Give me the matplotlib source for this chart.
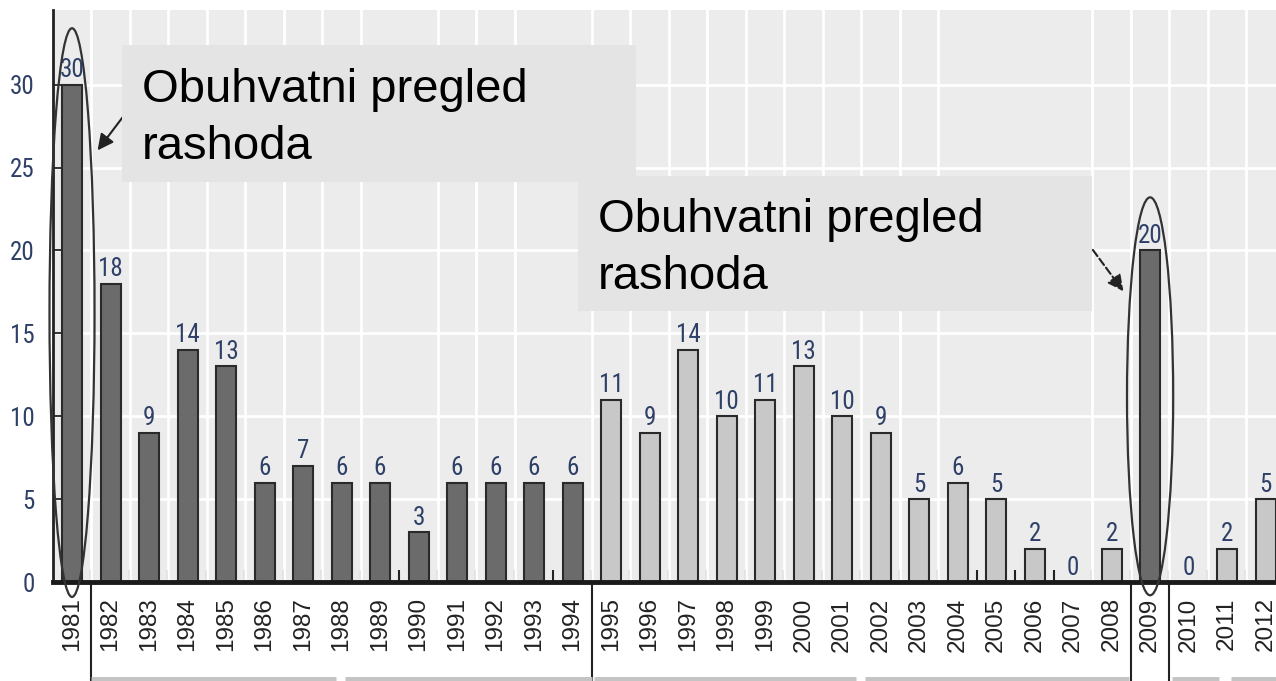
import matplotlib
matplotlib.use("Agg")
import matplotlib.pyplot as plt
from matplotlib.patches import Ellipse, Rectangle
import numpy as np

# data
years = [str(y) for y in range(1981, 2013)]
counts = [30, 18, 9, 14, 13, 6, 7, 6, 6, 3, 6, 6, 6, 6,
          11, 9, 14, 10, 11, 13, 10, 9, 5, 6, 5, 2, 0, 2,
          20, 0, 2, 5]
dark_years = [str(y) for y in range(1981, 1995)] + ["2009"]
box_text = "Obuhvatni pregled\nrashoda"

# layout bits
group_breaks = [0.5, 13.5, 27.5, 28.5]
missing_grid = [8, 12, 23, 24, 25]
bottom_strips = [(0.5, 6.85), (7.1, 13.5), (13.56, 20.35), (20.6, 27.45), (28.57, 29.8), (30.1, 31.4)]

dark = "#6b6b6b"
light = "#c8c8c8"
label_col = "#2f4068"
narrow = ["Roboto Condensed", "DejaVu Sans"]

fig = plt.figure(figsize=(12.76, 6.81), dpi=100)
ax = fig.add_axes([53 / 1276, 99 / 681, 1223 / 1276, 572 / 681])
ax.set_facecolor("#ececec")

x = np.arange(len(years))
colors = [dark if y in dark_years else light for y in years]
ax.bar(x, counts, width=0.52, color=colors, edgecolor="#2a2a2a", linewidth=1.5, zorder=3)

for i, v in enumerate(counts):
    ax.text(i, v + 0.15, str(v), ha="center", va="bottom", fontsize=18,
            family=narrow, color=label_col, zorder=5)

ax.set_xlim(-0.494, 31.27)
ax.set_ylim(0, 34.5)

# grid
ax.set_yticks(np.arange(0, 31, 5))
ax.yaxis.grid(True, color="white", linewidth=2, zorder=1)
ax.set_axisbelow(True)
for k in range(len(years) - 1):
    if k not in missing_grid:
        ax.axvline(k + 0.5, color="white", linewidth=2, zorder=1)

# axes style
for s in ["top", "right"]:
    ax.spines[s].set_visible(False)
ax.spines["left"].set_linewidth(2)
ax.spines["left"].set_color("#222222")
ax.spines["bottom"].set_linewidth(3.5)
ax.spines["bottom"].set_color("#1a1a1a")
ax.spines["bottom"].set_zorder(6)

ax.set_xticks(x)
ax.set_xticklabels(years, rotation=90, fontsize=17.5, family="Liberation Sans", color="#222222")
ax.set_xticks(x[:-1] + 0.5, minor=True)
ax.tick_params(axis="x", which="major", length=0, pad=11)
ax.tick_params(axis="x", which="minor", direction="in", length=9, width=1.5, color="#222222")
ax.tick_params(axis="y", direction="in", length=7, width=1.3, color="#222222",
               labelsize=18, labelcolor=label_col, pad=13)
for lab in ax.get_yticklabels():
    lab.set_family(narrow)

# group separators below the axis
for b in group_breaks:
    ax.axvline(b, ymin=-0.18, ymax=0, color="#222222", linewidth=1.5, clip_on=False)
for a, b in bottom_strips:
    ax.plot([a, b], [-0.171, -0.171], color="#c4c4c4", linewidth=5,
            transform=ax.get_xaxis_transform(), clip_on=False, solid_capstyle="butt")

# ellipses round the two highlighted years
ax.add_patch(Ellipse((0, 16.25), 1.17, 34.3, fill=False, edgecolor="#333333",
                     linewidth=1.6, clip_on=False, zorder=7))
ax.add_patch(Ellipse((28, 11.2), 1.2, 24.0, fill=False, edgecolor="#333333",
                     linewidth=1.6, clip_on=False, zorder=7))

# arrows
ax.annotate("", xy=(0.62, 25.9), xytext=(1.5, 28.6),
            arrowprops=dict(arrowstyle="-|>", color="#222222", lw=1.5, mutation_scale=24),
            zorder=3)
ax.annotate("", xy=(27.35, 17.4), xytext=(26.3, 20.7),
            arrowprops=dict(arrowstyle="-|>", color="#222222", lw=1.5, mutation_scale=24,
                            linestyle="--"),
            zorder=3)

# text boxes
for x0, y0, w, h, tx, ty in [(0.0564, 0.699, 0.4203, 0.240, 0.0728, 0.8986),
                             (0.4293, 0.474, 0.4202, 0.236, 0.4456, 0.6713)]:
    ax.add_patch(Rectangle((x0, y0), w, h, transform=ax.transAxes,
                           facecolor="#e4e4e4", edgecolor="none", zorder=8))
    ax.text(tx, ty, box_text, transform=ax.transAxes, ha="left", va="top",
            fontsize=34, family="Liberation Sans", color="black",
            linespacing=1.38, zorder=9)

fig.savefig("out.png", dpi=100)
